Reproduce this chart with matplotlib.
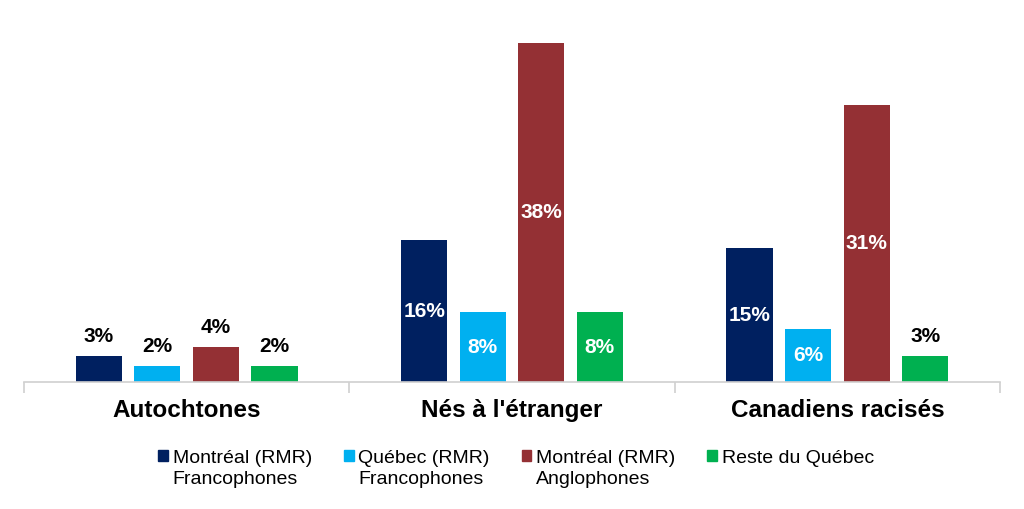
import matplotlib.pyplot as plt
import numpy as np
from matplotlib.patches import Patch

plt.rcParams['font.family'] = ['Liberation Sans', 'DejaVu Sans']

categories = ["Autochtones", "Nés à l'étranger", "Canadiens racisés"]
series = ["Montréal (RMR)\nFrancophones", "Québec (RMR)\nFrancophones",
          "Montréal (RMR)\nAnglophones", "Reste du Québec"]
colors = ["#002060", "#00B0F0", "#943034", "#00B050"]

# values per category (rows) -> per series (columns)
values = [
    [2.9, 1.8, 3.9, 1.8],      # Autochtones
    [15.9, 7.8, 38.0, 7.8],    # Nés à l'étranger
    [15.0, 5.9, 31.0, 2.9],    # Canadiens racisés
]

fig = plt.figure(figsize=(10.24, 5.09), dpi=100)
ax = fig.add_axes([24 / 1024, 1 - 382 / 509, 976 / 1024, (382 - 25) / 509])

x = np.arange(len(categories))
width = 0.142
step = 0.18
for i, (name, col) in enumerate(zip(series, colors)):
    vals = [row[i] for row in values]
    pos = x + (i - 1.5) * step
    ax.bar(pos, vals, width, color=col, label=name)
    for xp, v in zip(pos, vals):
        if v < 5:
            # small bars get the label above
            ax.text(xp, v + 1.1, "%.0f%%" % v, ha="center", va="bottom",
                    fontsize=15, fontweight="bold", color="black")
        else:
            ax.text(xp, v / 2, "%.0f%%" % v, ha="center", va="center",
                    fontsize=15, fontweight="bold", color="white")

ax.set_xlim(-0.5, 2.5)
ax.set_ylim(0, 40)
ax.set_yticks([])
for s in ["top", "right", "left"]:
    ax.spines[s].set_visible(False)
ax.spines["bottom"].set_color("#d0d0d0")
ax.spines["bottom"].set_linewidth(1.2)
ax.set_xticks(x)
ax.set_xticklabels(categories, fontsize=17.5, fontweight="bold")
ax.tick_params(axis="x", which="major", length=0, pad=12)
ax.set_xticks([-0.5, 0.5, 1.5, 2.5], minor=True)
ax.tick_params(axis="x", which="minor", length=8, width=1.2, color="#d0d0d0")

handles = [Patch(color=c, label=s) for s, c in zip(series, colors)]
leg = fig.legend(handles=handles, loc="upper center", bbox_to_anchor=(0.504, 0.15),
                 ncol=4, frameon=False, fontsize=14, handlelength=0.5,
                 handleheight=0.5, handletextpad=0.24, columnspacing=1.65)
for t in leg.get_texts():
    t.set_linespacing(1.32)
# put the square next to the first line, like the original
leg._legend_handle_box.align = "top"
for column in leg._legend_handle_box.get_children():
    column.align = "left"
    for entry in column.get_children():
        entry.align = "top"

fig.savefig("out.png", dpi=100)
